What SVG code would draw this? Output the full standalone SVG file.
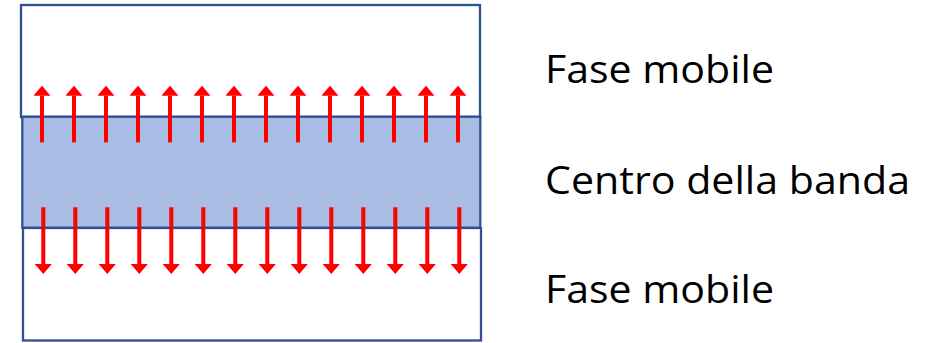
<svg xmlns="http://www.w3.org/2000/svg" width="941" height="343" viewBox="0 0 941 343">
<style>
.box{fill:#ffffff;stroke:#2F528F;stroke-width:2.3}
.band{fill:#A9BCE3;stroke:#2F528F;stroke-width:2.3}
.arr{stroke:#FF0000;stroke-width:4;fill:none;marker-end:url(#head)}
.lbl{font-family:"Open Sans","Noto Sans",sans-serif;font-size:38.5px;fill:#000000}
</style>
<defs>
<marker id="head" markerUnits="userSpaceOnUse" markerWidth="10" markerHeight="17" viewBox="0 -8.5 10 17" refX="0" refY="0" orient="auto">
<path d="M0,-8.5 L10,0 L0,8.5 Z" fill="#FF0000"/>
</marker>
</defs>
<g id="top-phase"><rect class="box" x="21" y="5" width="459" height="112"/></g>
<g id="bottom-phase"><rect class="box" x="23" y="228" width="458" height="112.5"/></g>
<g id="band-center"><rect class="band" x="22.3" y="116.7" width="458" height="111"/></g>
<g id="connectors">
<line class="arr" x1="42" y1="142.3" x2="42" y2="95.7"/>
<line class="arr" x1="74" y1="142.3" x2="74" y2="95.7"/>
<line class="arr" x1="106" y1="142.3" x2="106" y2="95.7"/>
<line class="arr" x1="138" y1="142.3" x2="138" y2="95.7"/>
<line class="arr" x1="170" y1="142.3" x2="170" y2="95.7"/>
<line class="arr" x1="202" y1="142.3" x2="202" y2="95.7"/>
<line class="arr" x1="234" y1="142.3" x2="234" y2="95.7"/>
<line class="arr" x1="266" y1="142.3" x2="266" y2="95.7"/>
<line class="arr" x1="298" y1="142.3" x2="298" y2="95.7"/>
<line class="arr" x1="330" y1="142.3" x2="330" y2="95.7"/>
<line class="arr" x1="362" y1="142.3" x2="362" y2="95.7"/>
<line class="arr" x1="394" y1="142.3" x2="394" y2="95.7"/>
<line class="arr" x1="426" y1="142.3" x2="426" y2="95.7"/>
<line class="arr" x1="458" y1="142.3" x2="458" y2="95.7"/>
<line class="arr" x1="43.3" y1="207.3" x2="43.3" y2="264"/>
<line class="arr" x1="75.3" y1="207.3" x2="75.3" y2="264"/>
<line class="arr" x1="107.3" y1="207.3" x2="107.3" y2="264"/>
<line class="arr" x1="139.3" y1="207.3" x2="139.3" y2="264"/>
<line class="arr" x1="171.3" y1="207.3" x2="171.3" y2="264"/>
<line class="arr" x1="203.3" y1="207.3" x2="203.3" y2="264"/>
<line class="arr" x1="235.3" y1="207.3" x2="235.3" y2="264"/>
<line class="arr" x1="267.3" y1="207.3" x2="267.3" y2="264"/>
<line class="arr" x1="299.3" y1="207.3" x2="299.3" y2="264"/>
<line class="arr" x1="331.3" y1="207.3" x2="331.3" y2="264"/>
<line class="arr" x1="363.3" y1="207.3" x2="363.3" y2="264"/>
<line class="arr" x1="395.3" y1="207.3" x2="395.3" y2="264"/>
<line class="arr" x1="427.3" y1="207.3" x2="427.3" y2="264"/>
<line class="arr" x1="459.3" y1="207.3" x2="459.3" y2="264"/>
</g>
<g id="labels">
<text class="lbl" x="545" y="82.7" textLength="229" lengthAdjust="spacingAndGlyphs">Fase mobile</text>
<text class="lbl" x="545" y="194.3" textLength="365" lengthAdjust="spacingAndGlyphs">Centro della banda</text>
<text class="lbl" x="545" y="302.7" textLength="229" lengthAdjust="spacingAndGlyphs">Fase mobile</text>
</g>
</svg>
